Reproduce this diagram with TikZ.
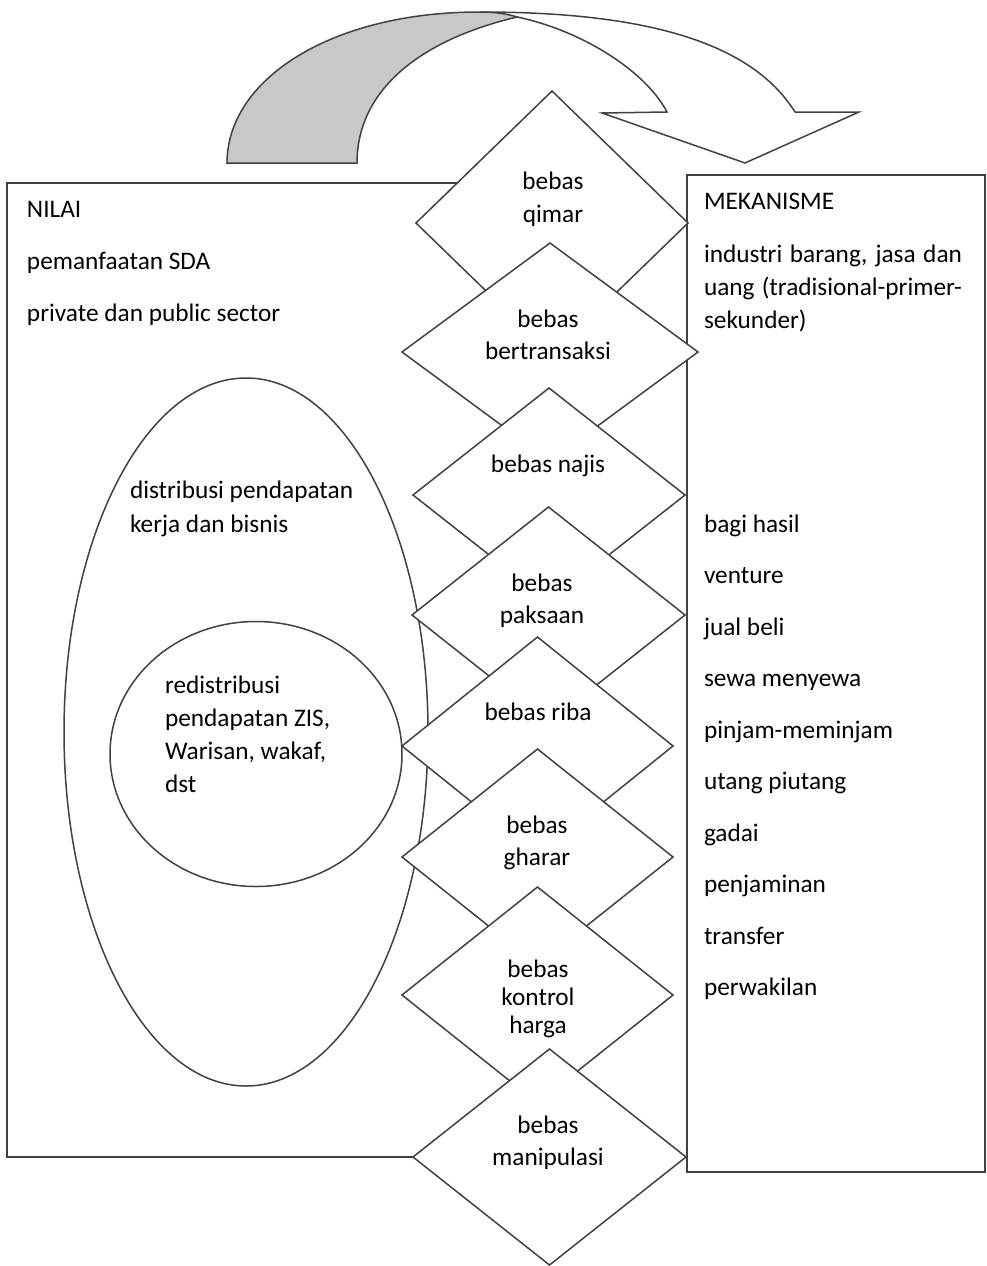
\documentclass[tikz,border=0pt]{standalone}
\usepackage{fontspec}
\setmainfont{Carlito}
\usetikzlibrary{shapes.geometric}
\definecolor{arrowgray}{RGB}{200,200,200}
\definecolor{linegray}{RGB}{65,65,65}
\begin{document}
\begin{tikzpicture}[x=1pt,y=-1pt,
  ln/.style={draw=linegray, line width=1.5pt},
  boxstyle/.style={ln, fill=white, inner sep=0pt, outer sep=0pt, anchor=north west},
  dia/.style={shape=diamond, ln, fill=white, inner sep=0pt, outer sep=0pt, line join=miter},
  oval/.style={shape=ellipse, ln, inner sep=0pt, outer sep=0pt},
  txt/.style={font=\fontsize{25.3}{33}\selectfont, inner sep=0pt, outer sep=0pt, text=black, align=left, anchor=base west},
  dtxt/.style={font=\fontsize{25.3}{33}\selectfont, inner sep=0pt, outer sep=0pt, text=black, align=center, anchor=base},
]
\useasboundingbox (0,0) rectangle (987,1266);

% boxes
\node[boxstyle, minimum width=541pt, minimum height=974pt] (nilai) at (7,183) {};
\node[boxstyle, minimum width=298pt, minimum height=997pt] (mek) at (687,175) {};

% ellipse and circle
\node[oval, minimum width=364pt, minimum height=708pt] (ell) at (246,732) {};
\node[oval, fill=white, minimum width=292pt, minimum height=265pt] (circ) at (256,754) {};

% left texts (base anchor = baseline of the last line)
\node[txt] (tnilai) at (27,217) {NILAI};
\node[txt] (tsda) at (27,269) {pemanfaatan SDA};
\node[txt] (tsector) at (27,321) {private dan public sector};
\node[txt, font=\fontsize{25.3}{34}\selectfont] (tdist) at (130,532) {distribusi pendapatan\\kerja dan bisnis};
\node[txt, font=\fontsize{25.3}{33}\selectfont] (tredist) at (165,792) {redistribusi\\pendapatan ZIS,\\Warisan, wakaf,\\dst};

% right texts
\node[txt] (tmek) at (704,209) {MEKANISME};
\node[txt, font=\fontsize{25.3}{33}\selectfont] (tind) at (704,328) {\makebox[258pt][s]{industri barang, jasa dan}\\\makebox[258pt][s]{uang (tradisional-primer-}\\sekunder)};
\node[txt] (m1) at (704,532) {bagi hasil};
\node[txt] (m2) at (704,583.5) {venture};
\node[txt] (m3) at (704,635) {jual beli};
\node[txt] (m4) at (704,686.5) {sewa menyewa};
\node[txt] (m5) at (704,738) {pinjam-meminjam};
\node[txt] (m6) at (704,789.5) {utang piutang};
\node[txt] (m7) at (704,841) {gadai};
\node[txt] (m8) at (704,892.5) {penjaminan};
\node[txt] (m9) at (704,944) {transfer};
\node[txt] (m10) at (704,995.5) {perwakilan};

% diamonds
\node[dia, minimum width=272pt, minimum height=264pt] (d1) at (552,223) {};
\node[dtxt] (t1) at (553,222) {bebas\\qimar};
\node[dia, minimum width=296pt, minimum height=218pt] (d2) at (550,352) {};
\node[dtxt, font=\fontsize{25.3}{32}\selectfont] (t2) at (548,359) {bebas\\bertransaksi};
\node[dia, minimum width=272pt, minimum height=214pt] (d3) at (549,495) {};
\node[dtxt] (t3) at (548,472) {bebas najis};
\node[dia, minimum width=273pt, minimum height=216pt] (d4) at (548.5,615) {};
\node[dtxt, font=\fontsize{25.3}{32}\selectfont] (t4) at (542,623) {bebas\\paksaan};
\node[dia, minimum width=271pt, minimum height=218pt] (d5) at (537.5,746) {};
\node[dtxt] (t5) at (538,720) {bebas riba};
\node[dia, minimum width=271pt, minimum height=216pt] (d6) at (537.5,857) {};
\node[dtxt, font=\fontsize{25.3}{32}\selectfont] (t6) at (537,865) {bebas\\gharar};
\node[dia, minimum width=271pt, minimum height=216pt] (d7) at (537.5,995) {};
\node[dtxt, font=\fontsize{25.3}{28}\selectfont] (t7) at (538,1033) {bebas\\kontrol\\harga};
\node[dia, minimum width=273pt, minimum height=216pt] (d8) at (549.5,1157) {};
\node[dtxt, font=\fontsize{25.3}{32}\selectfont] (t8) at (548,1165) {bebas\\manipulasi};

% curved arrow (front, then back part in gray)
\path[ln, fill=white, line join=miter] (480,12) .. controls (640,12) and (750,40) .. (795,112) -- (859,112) -- (745,163) -- (602,113) -- (667,112) .. controls (645,70) and (580,30) .. (517,17) -- cycle;
\path[ln, fill=arrowgray] (227,163) .. controls (227,80) and (330,12) .. (480,12) .. controls (495,12) and (508,14) .. (517,17) .. controls (420,40) and (357,90) .. (357,163) -- cycle;
\end{tikzpicture}
\end{document}
